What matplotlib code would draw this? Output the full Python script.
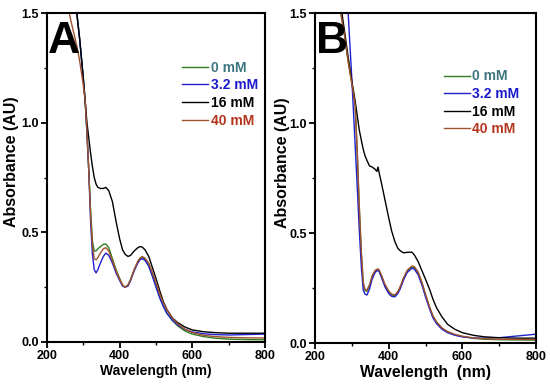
import numpy as np
import matplotlib.pyplot as plt
from matplotlib.ticker import MultipleLocator

# ---- panel A data (wavelength nm, absorbance AU) ----
wl_a = [255, 265, 275, 282, 290, 300, 305, 310, 315, 320, 325, 330, 335, 340, 347, 355, 362, 370,
        380, 390, 400, 408, 415, 423, 430, 440, 450, 456, 462, 470, 480, 490, 500, 511, 520, 530,
        545, 560, 580, 600, 630, 660, 700, 750, 800]
a_0mM = [1.9, 1.75, 1.62, 1.5, 1.38, 1.2, 1.1, 0.95, 0.78, 0.6, 0.46, 0.415, 0.415, 0.425, 0.435, 0.445, 0.447, 0.43,
         0.38, 0.33, 0.29, 0.26, 0.25, 0.26, 0.285, 0.33, 0.365, 0.38, 0.385, 0.375, 0.35, 0.305, 0.255, 0.2, 0.165, 0.132,
         0.098, 0.073, 0.05, 0.036, 0.025, 0.018, 0.013, 0.011, 0.01]
a_32mM = [1.9, 1.75, 1.62, 1.5, 1.38, 1.2, 1.1, 0.95, 0.78, 0.55, 0.4, 0.33, 0.315, 0.33, 0.36, 0.39, 0.405, 0.395,
          0.36, 0.315, 0.28, 0.255, 0.25, 0.255, 0.28, 0.325, 0.36, 0.375, 0.38, 0.372, 0.345, 0.3, 0.25, 0.198, 0.163, 0.13,
          0.1, 0.077, 0.057, 0.046, 0.038, 0.034, 0.032, 0.034, 0.036]
a_16mM = [1.9, 1.75, 1.62, 1.5, 1.38, 1.2, 1.1, 1.0, 0.93, 0.86, 0.8, 0.75, 0.72, 0.705, 0.70, 0.70, 0.705, 0.69,
          0.64, 0.55, 0.47, 0.42, 0.40, 0.39, 0.395, 0.415, 0.43, 0.435, 0.433, 0.42, 0.39, 0.34, 0.29, 0.23, 0.185, 0.148,
          0.11, 0.088, 0.068, 0.055, 0.047, 0.043, 0.04, 0.04, 0.04]
a_40mM = [1.55, 1.47, 1.4, 1.35, 1.28, 1.17, 1.1, 0.96, 0.78, 0.58, 0.44, 0.38, 0.375, 0.385, 0.405, 0.425, 0.43, 0.415,
          0.37, 0.325, 0.285, 0.26, 0.25, 0.26, 0.285, 0.33, 0.368, 0.383, 0.39, 0.382, 0.36, 0.318, 0.27, 0.215, 0.18, 0.147,
          0.11, 0.082, 0.058, 0.043, 0.031, 0.025, 0.021, 0.019, 0.018]

# ---- panel B data ----
wl_b = [262, 270, 273, 280, 290, 300, 303, 309, 315, 320, 326, 331, 336, 341, 348, 355, 363, 368, 371,
        374, 380, 390, 400, 408, 417, 425, 431, 440, 450, 463, 470, 480, 490, 500, 512, 520, 530,
        545, 560, 580, 600, 630, 660, 700, 750, 800]
b_0mM = [1.6, 1.5, 1.47, 1.4, 1.28, 1.18, 1.15, 1.08, 0.85, 0.62, 0.4, 0.27, 0.238, 0.235, 0.26, 0.3, 0.325, 0.33, 0.332,
         0.328, 0.305, 0.262, 0.232, 0.218, 0.215, 0.23, 0.25, 0.29, 0.325, 0.345, 0.342, 0.318, 0.273, 0.218, 0.157, 0.122, 0.093,
         0.066, 0.05, 0.037, 0.029, 0.021, 0.017, 0.015, 0.014, 0.013]
b_32mM = [2.4, 2.1, 2.0, 1.8, 1.5, 1.2, 1.1, 0.9, 0.7, 0.52, 0.34, 0.24, 0.222, 0.218, 0.245, 0.29, 0.32, 0.328, 0.33,
          0.325, 0.3, 0.255, 0.225, 0.212, 0.21, 0.225, 0.245, 0.285, 0.32, 0.34, 0.335, 0.31, 0.265, 0.21, 0.15, 0.115, 0.088,
          0.062, 0.047, 0.035, 0.028, 0.023, 0.022, 0.024, 0.032, 0.04]
b_16mM = [1.6, 1.53, 1.5, 1.42, 1.3, 1.19, 1.16, 1.1, 1.03, 0.97, 0.92, 0.88, 0.85, 0.83, 0.805, 0.80, 0.79, 0.78, 0.80,
          0.775, 0.73, 0.65, 0.57, 0.51, 0.46, 0.43, 0.42, 0.41, 0.412, 0.413, 0.40, 0.37, 0.33, 0.29, 0.24, 0.2, 0.16,
          0.118, 0.085, 0.062, 0.047, 0.035, 0.028, 0.024, 0.022, 0.022]
b_40mM = [1.6, 1.5, 1.47, 1.4, 1.28, 1.18, 1.15, 1.08, 0.86, 0.63, 0.41, 0.275, 0.242, 0.24, 0.265, 0.305, 0.33, 0.335, 0.337,
          0.333, 0.31, 0.267, 0.237, 0.222, 0.219, 0.234, 0.255, 0.295, 0.33, 0.35, 0.347, 0.323, 0.278, 0.222, 0.16, 0.125, 0.096,
          0.068, 0.052, 0.039, 0.031, 0.023, 0.019, 0.017, 0.016, 0.016]

labels = ['0 mM', '3.2 mM', '16 mM', '40 mM']
line_colors = ['#2f7d1f', '#2020d0', '#000000', '#a0522d']
text_colors = ['#3d7580', '#1a1acc', '#000000', '#b5341c']

plt.rcParams['font.family'] = ['Liberation Sans', 'DejaVu Sans']

fig = plt.figure(figsize=(5.5, 3.86), dpi=100)
ax_a = fig.add_axes([47 / 550, 1 - 342 / 386, 218 / 550, 329 / 386])
ax_b = fig.add_axes([315 / 550, 1 - 343 / 386, 221 / 550, 330 / 386])

panels = [
    (ax_a, wl_a, [a_0mM, a_32mM, a_16mM, a_40mM], 'A', 'Wavelength (nm)', 10, (0.596, 0.872), -0.128),
    (ax_b, wl_b, [b_0mM, b_32mM, b_16mM, b_40mM], 'B', 'Wavelength  (nm)', 11.3, (0.557, 0.846), -0.113),
]

for ax, wl, series, letter, xlab, xfs, leg_xy, ylab_x in panels:
    for ys, c in zip(series, line_colors):
        ax.plot(wl, ys, color=c, lw=1.0)
    ax.set_xlim(200, 800)
    ax.set_ylim(0, 1.5)
    ax.xaxis.set_major_locator(MultipleLocator(200))
    ax.xaxis.set_minor_locator(MultipleLocator(100))
    ax.yaxis.set_major_locator(MultipleLocator(0.5))
    ax.yaxis.set_minor_locator(MultipleLocator(0.25))
    ax.set_yticklabels([f'{v:.1f}' for v in ax.get_yticks()])
    ax.tick_params(which='major', direction='out', length=4, width=1.3, labelsize=9, pad=2)
    ax.tick_params(which='minor', direction='out', length=2, width=1.0)
    for lab in ax.get_xticklabels() + ax.get_yticklabels():
        lab.set_fontweight('bold')
    for sp in ax.spines.values():
        sp.set_linewidth(1.5)
    ax.set_xlabel(xlab, fontsize=xfs, fontweight='bold', labelpad=1)
    ax.set_ylabel('Absorbance (AU)', fontsize=11.5, fontweight='bold')
    ax.yaxis.set_label_coords(ylab_x, 0.547)
    ax.text(0.005, 0.975, letter, transform=ax.transAxes, fontsize=32, fontweight='bold',
            ha='left', va='top')
    leg = ax.legend(labels, loc='upper left', bbox_to_anchor=leg_xy, frameon=False,
                    prop={'weight': 'bold', 'size': 10}, handlelength=1.87, handletextpad=0.15,
                    labelspacing=0.26, borderaxespad=0)
    for t, c in zip(leg.get_texts(), text_colors):
        t.set_color(c)

fig.savefig('out.png', dpi=100)
